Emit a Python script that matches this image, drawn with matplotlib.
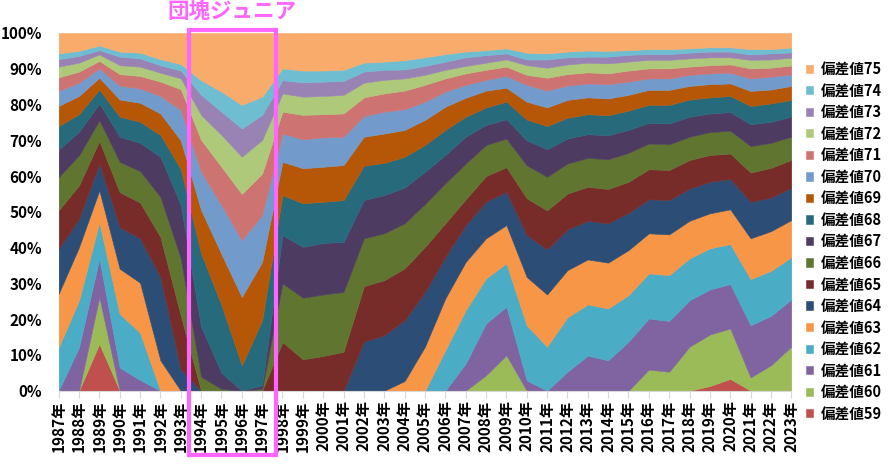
import matplotlib
matplotlib.use("Agg")
import matplotlib.pyplot as plt
from matplotlib.patches import Rectangle
import numpy as np

plt.rcParams['font.family'] = ['Noto Sans CJK JP', 'DejaVu Sans']

years = list(range(1987, 2024))

# share (%) of each 偏差値 band per year
s59 = [0, 0, 13.1, 0, 0, 0, 0, 0, 0, 0, 0, 0, 0, 0, 0, 0, 0, 0, 0,
       0, 0, 0, 0, 0, 0, 0, 0, 0, 0, 0, 0, 0, 1.3, 3.3, 0, 0, 0]
s60 = [0, 0, 13.0, 0, 0, 0, 0, 0, 0, 0, 0, 0, 0, 0, 0, 0, 0, 0, 0,
       0, 0, 4.3, 9.9, 0, 0, 0, 0, 0, 0, 5.9, 5.3, 12.3, 14.4, 14.1, 3.7, 7.1, 12.3]
s61 = [0, 12.1, 10.8, 6.5, 3.0, 0, 0, 0, 0, 0, 0, 0, 0, 0, 0, 0, 0, 0, 0,
       0, 7.6, 14.5, 13.6, 2.9, 0, 5.3, 9.8, 8.5, 13.7, 14.3, 14.2, 13.0, 12.6, 12.4, 14.6, 13.8, 13.2]
s62 = [12.1, 13.1, 10.2, 15.0, 13.2, 0, 0, 0, 0, 0, 0, 0, 0, 0, 0, 0, 0, 0, 0,
       11.3, 14.9, 12.6, 12.1, 15.4, 12.3, 15.2, 14.3, 14.5, 13.0, 12.6, 12.8, 11.7, 11.5, 11.2, 12.9, 12.6, 11.8]
s63 = [15.0, 14.9, 8.9, 12.6, 14.0, 8.5, 0, 0, 0, 0, 0, 0, 0, 0, 0, 0, 0, 2.7, 12.3,
       14.5, 13.5, 11.2, 10.7, 13.5, 14.6, 13.2, 12.6, 12.8, 12.6, 11.2, 11.4, 10.5, 9.8, 9.7, 11.4, 11.1, 10.4]
s64 = [12.6, 7.9, 7.5, 11.6, 12.4, 23.3, 6.0, 0, 0, 0, 0, 0, 0, 0, 0, 13.7, 15.5, 17.0, 15.3,
       11.6, 10.3, 10.2, 9.3, 11.7, 12.6, 11.4, 10.8, 11.0, 10.4, 9.5, 9.6, 9.0, 8.8, 8.5, 10.2, 9.4, 9.0]
s65 = [10.7, 9.4, 6.3, 9.8, 10.0, 11.2, 15.0, 0, 0, 0, 0, 13.6, 8.8, 9.7, 10.9, 15.5, 15.4, 14.5, 12.6,
       9.4, 7.2, 7.2, 6.9, 10.3, 10.9, 10.0, 9.5, 9.6, 8.7, 8.4, 8.4, 8.0, 7.5, 7.1, 8.2, 8.3, 7.8]
s66 = [9.3, 8.4, 5.8, 8.5, 8.8, 11.2, 16.0, 3.9, 0.5, 0, 0.5, 16.4, 17.2, 17.2, 16.7, 13.4, 13.1, 12.6, 12.0,
       11.2, 10.0, 8.7, 8.0, 9.2, 9.4, 8.4, 8.1, 8.3, 8.1, 7.2, 7.2, 6.5, 6.4, 6.4, 7.4, 7.0, 6.5]
s67 = [7.7, 6.6, 4.7, 7.0, 7.9, 11.2, 15.0, 14.0, 4.5, 0, 1.0, 13.5, 14.2, 14.4, 14.0, 10.7, 10.7, 10.0, 9.0,
       7.9, 7.5, 5.6, 5.4, 7.0, 7.7, 7.0, 6.6, 6.7, 6.4, 5.8, 5.8, 5.6, 5.2, 5.2, 6.1, 5.9, 5.6]
s68 = [6.6, 4.9, 3.9, 5.6, 5.9, 6.1, 10.0, 20.5, 19.0, 7.1, 18.2, 11.2, 12.2, 11.5, 11.7, 9.6, 9.0, 8.6, 7.5,
       7.0, 5.6, 4.9, 4.9, 5.8, 6.5, 5.8, 5.6, 5.6, 5.4, 5.0, 5.2, 4.8, 4.5, 4.5, 5.1, 5.1, 4.7]
s69 = [5.6, 5.1, 3.3, 4.8, 5.3, 6.0, 8.0, 12.1, 14.2, 19.1, 16.3, 9.3, 9.8, 9.8, 9.8, 8.1, 8.2, 7.5, 7.0,
       6.5, 5.3, 4.7, 3.9, 5.0, 5.2, 5.0, 4.7, 4.7, 4.4, 4.2, 4.2, 3.8, 3.7, 3.5, 4.2, 3.9, 3.9]
s70 = [4.2, 3.7, 2.6, 3.9, 4.0, 4.9, 8.5, 10.7, 13.7, 15.9, 13.1, 7.9, 8.1, 8.2, 7.9, 5.8, 6.1, 5.8, 5.1,
       4.2, 3.6, 3.0, 3.3, 4.7, 4.7, 4.0, 3.9, 4.0, 3.7, 3.2, 3.2, 3.1, 3.0, 3.0, 3.5, 3.6, 3.2]
s71 = [3.8, 3.1, 2.1, 3.2, 3.5, 4.0, 5.8, 8.9, 10.7, 12.9, 11.6, 6.1, 6.8, 6.5, 6.5, 5.2, 5.1, 5.2, 4.7,
       3.7, 3.2, 2.8, 2.6, 2.8, 3.6, 3.2, 3.1, 3.0, 3.1, 2.8, 2.8, 2.3, 2.3, 2.3, 2.8, 2.5, 2.5]
s72 = [3.0, 2.5, 1.8, 2.5, 2.6, 2.5, 3.0, 7.0, 8.9, 10.4, 9.4, 5.1, 5.1, 5.1, 5.2, 4.1, 3.8, 3.4, 2.8,
       2.4, 2.1, 2.0, 2.0, 2.7, 2.8, 2.7, 2.7, 2.8, 2.5, 2.4, 2.4, 2.3, 2.2, 2.0, 2.4, 2.3, 2.2]
s73 = [2.1, 1.9, 1.2, 2.4, 2.3, 2.1, 2.2, 5.6, 6.5, 7.9, 7.0, 3.7, 4.0, 4.0, 3.9, 3.1, 2.8, 2.5, 2.5,
       2.3, 2.4, 2.1, 1.7, 1.6, 2.3, 2.0, 1.7, 1.9, 1.9, 1.6, 1.6, 1.6, 1.6, 1.6, 1.5, 1.7, 1.5]
s74 = [1.6, 1.4, 1.3, 1.4, 1.6, 1.7, 1.8, 4.1, 5.6, 6.6, 5.1, 3.3, 3.3, 3.1, 3.1, 2.5, 2.3, 2.6, 2.4,
       2.1, 1.6, 1.4, 1.4, 1.9, 1.7, 1.6, 1.7, 1.6, 1.3, 1.4, 1.4, 1.2, 1.2, 1.2, 1.5, 1.2, 1.3]
s75 = [5.7, 5.0, 3.5, 5.2, 5.5, 7.3, 8.7, 13.2, 16.4, 20.1, 17.8, 9.9, 10.5, 10.5, 10.3, 8.3, 8.0, 7.6, 6.8,
       5.9, 5.2, 4.8, 4.3, 5.5, 5.7, 5.2, 4.9, 5.0, 4.8, 4.5, 4.5, 4.3, 4.0, 4.0, 4.5, 4.5, 4.1]

series = [s59, s60, s61, s62, s63, s64, s65, s66, s67, s68, s69, s70, s71, s72, s73, s74, s75]
labels = [f"偏差値{n}" for n in range(59, 76)]
colors = ['#C0504D', '#9BBB59', '#8064A2', '#4BACC6', '#F79646', '#2C4D75',
          '#772C2A', '#5F7530', '#4D3B62', '#276A7C', '#B65708', '#729ACA',
          '#CD7371', '#AFC97A', '#9983B5', '#6FBDD1', '#F9AB6B']
PINK = '#FF66FF'


def main():
    data = np.array(series, dtype=float)
    data = data / data.sum(axis=0) * 100.0  # 100% stacked
    x = np.arange(len(years))

    fig = plt.figure(figsize=(8.95, 4.66), dpi=100)
    ax = fig.add_axes([0.0655, 0.1616, 0.8186, 0.7676])

    polys = ax.stackplot(x, data, colors=colors, labels=labels)
    for p, c in zip(polys, colors):
        p.set_edgecolor(c)
        p.set_linewidth(0.4)

    ax.set_xlim(0, len(years) - 1)
    ax.set_ylim(0, 100)
    ax.set_xticks(x)
    ax.set_xticklabels([f"{y}年" for y in years], rotation=90,
                       fontsize=11, fontweight='bold')
    ax.set_yticks(range(0, 101, 10))
    ax.set_yticklabels([f"{v}%" for v in range(0, 101, 10)],
                       fontsize=11, fontweight='bold')
    for side in ['left', 'right', 'top']:
        ax.spines[side].set_visible(False)
    ax.spines['bottom'].set_color('#D9D9D9')
    ax.tick_params(axis='y', length=0, pad=12)
    ax.tick_params(axis='x', length=5, color='#D9D9D9', pad=2)

    handles, labs = ax.get_legend_handles_labels()
    fig.legend(handles[::-1], labs[::-1], loc='upper left',
               bbox_to_anchor=(800 / 895, 1 - 55 / 466), frameon=False,
               prop={'size': 10.5, 'weight': 'bold'},
               handlelength=0.5, handleheight=0.5, handletextpad=0.5,
               labelspacing=0.38, borderaxespad=0)

    # 団塊ジュニア highlight box
    fig.patches.append(Rectangle((189.5 / 895, 11 / 466), 87 / 895, 425 / 466,
                                 transform=fig.transFigure, fill=False,
                                 edgecolor=PINK, linewidth=3, zorder=5))
    fig.text(232 / 895, 1 - 11 / 466, "団塊ジュニア", color=PINK,
             fontsize=15.5, fontweight='bold', ha='center', va='center')

    fig.savefig("out.png", dpi=100)


if __name__ == "__main__":
    main()
